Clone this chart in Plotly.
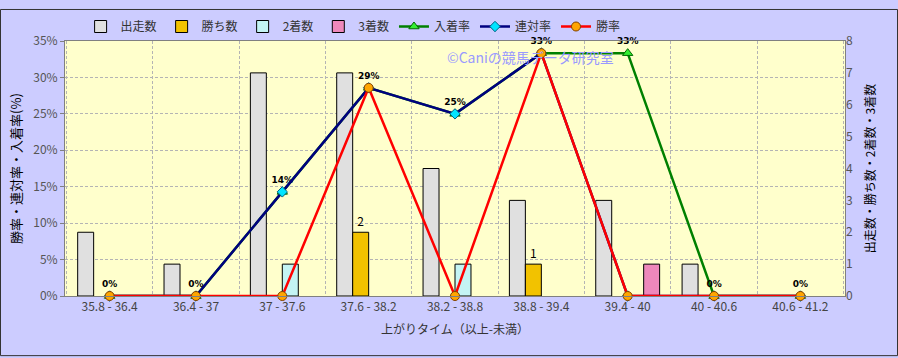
import plotly.graph_objects as go

categories = ["35.8 - 36.4", "36.4 - 37", "37 - 37.6", "37.6 - 38.2", "38.2 - 38.8",
              "38.8 - 39.4", "39.4 - 40", "40 - 40.6", "40.6 - 41.2"]
runs = [2, 1, 7, 7, 4, 3, 3, 1, 0]
wins = [0, 0, 0, 2, 0, 1, 0, 0, 0]
seconds = [0, 0, 1, 0, 1, 0, 0, 0, 0]
thirds = [0, 0, 0, 0, 0, 0, 1, 0, 0]
place_rate = [0, 0, 14.29, 28.57, 25.0, 33.33, 33.33, 0, 0]
rentai_rate = [0, 0, 14.29, 28.57, 25.0, 33.33, 0, 0, 0]
win_rate = [0, 0, 0, 28.57, 0, 33.33, 0, 0, 0]

FONT = "Noto Sans CJK JP"
W, H = 898, 358
L, R, T, B = 65, 53, 33, 62
pw, ph = W - L - R, H - T - B

fig = go.Figure()

bar_specs = [
    ("出走数", runs, "#e0e0e0"),
    ("勝ち数", wins, "#f2c200"),
    ("2着数", seconds, "#c4f4f4"),
    ("3着数", thirds, "#ee88bb"),
]
for name, vals, col in bar_specs:
    txt = [str(v) if (name == "勝ち数" and v > 0) else "" for v in vals]
    fig.add_trace(go.Bar(
        x=categories, y=[v if v > 0 else None for v in vals], name=name, yaxis="y",
        marker=dict(color=col, line=dict(color="#000000", width=1)),
        text=txt, textposition="outside", cliponaxis=False,
        textfont=dict(size=12, color="#000000", family=FONT),
    ))

fig.add_trace(go.Scatter(
    x=categories, y=place_rate, name="入着率", yaxis="y2",
    mode="lines+markers+text",
    line=dict(color="#008000", width=2.5),
    marker=dict(symbol="triangle-up", size=9, color="#33ee33", line=dict(color="#006600", width=1)),
    text=[f"<b>{round(v)}%</b>" for v in place_rate], textposition="top center",
    textfont=dict(size=9, color="#000000", family="DejaVu Sans"),
    cliponaxis=False,
))
fig.add_trace(go.Scatter(
    x=categories, y=rentai_rate, name="連対率", yaxis="y2",
    mode="lines+markers",
    line=dict(color="#000080", width=2.5),
    marker=dict(symbol="diamond", size=8, color="#00e5ff", line=dict(color="#006080", width=1)),
    cliponaxis=False,
))
fig.add_trace(go.Scatter(
    x=categories, y=win_rate, name="勝率", yaxis="y2",
    mode="lines+markers",
    line=dict(color="#ff0000", width=2.5),
    marker=dict(symbol="circle", size=9, color="#ffa500", line=dict(color="#804000", width=1)),
    cliponaxis=False,
))

fig.update_layout(
    width=W, height=H,
    margin=dict(l=L, r=R, t=T, b=B),
    paper_bgcolor="#ccccff",
    plot_bgcolor="#ffffcc",
    font=dict(family=FONT, size=12, color="#333333"),
    barmode="group", bargap=0.26, bargroupgap=0,
    showlegend=True,
    legend=dict(orientation="h", x=0.02, y=1.0, xanchor="left", yanchor="bottom",
                bgcolor="rgba(0,0,0,0)", font=dict(size=12, color="#333333", family=FONT),
                itemwidth=30, traceorder="normal", tracegroupgap=0),
    xaxis=dict(
        type="category", tickson="boundaries",
        showgrid=True, gridcolor="#b4b4b4", griddash="3px,2px", gridwidth=1,
        showline=True, linecolor="#808080", mirror=True,
        ticks="", tickfont=dict(size=12, color="#444444"),
        title=dict(text="上がりタイム（以上-未満）", font=dict(size=12, color="#333333"), standoff=12),
    ),
    yaxis=dict(
        side="right", range=[0, 8], dtick=1, showgrid=False, zeroline=False,
        ticks="", tickfont=dict(size=12, color="#555555"),
        title=dict(text="出走数・勝ち数・2着数・3着数", font=dict(size=12, color="#000000"), standoff=14),
    ),
    yaxis2=dict(
        overlaying="y", side="left", range=[0, 35], dtick=5, ticksuffix="%",
        showgrid=True, gridcolor="#b4b4b4", griddash="3px,2px", zeroline=False,
        showline=True, linecolor="#808080", mirror=True,
        ticks="outside", ticklen=4, tickcolor="#808080",
        tickfont=dict(size=12, color="#555555"),
        title=dict(text="勝率・連対率・入着率(%)", font=dict(size=13, color="#000000"), standoff=8),
    ),
    annotations=[dict(
        text="©Caniの競馬データ研究室", xref="paper", yref="paper",
        x=(445 - L) / pw, y=1 - (50 - T) / ph, xanchor="left", yanchor="middle",
        showarrow=False, font=dict(size=14, color="#9999ff", family=FONT),
    )],
    shapes=[dict(
        type="rect", xref="paper", yref="paper",
        x0=-(L - 0.5) / pw, x1=1 + (R - 0.5) / pw,
        y0=-(B - 0.5) / ph, y1=1 + (T - 0.5) / ph,
        line=dict(color="#333333", width=1), fillcolor="rgba(0,0,0,0)", layer="above",
    )],
)

fig.write_html("out.html")
